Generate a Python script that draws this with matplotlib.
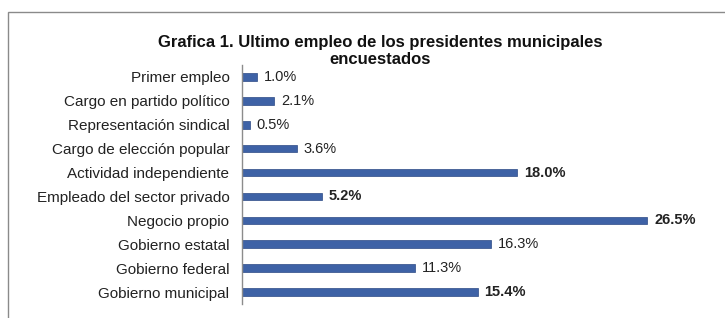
import matplotlib
matplotlib.use("Agg")
import matplotlib.pyplot as plt
from matplotlib.patches import Rectangle

categories = ["Primer empleo", "Cargo en partido político", "Representación sindical",
              "Cargo de elección popular", "Actividad independiente",
              "Empleado del sector privado", "Negocio propio", "Gobierno estatal",
              "Gobierno federal", "Gobierno municipal"]
values = [1.0, 2.1, 0.5, 3.6, 18.0, 5.2, 26.5, 16.3, 11.3, 15.4]
bold_labels = [False, False, False, False, True, True, True, False, False, True]
title_lines = ["Grafica 1. Ultimo empleo de los presidentes municipales", "encuestados"]

plt.rcParams['font.family'] = ['Liberation Sans', 'DejaVu Sans']

fig = plt.figure(figsize=(7.25, 3.18), dpi=100)
fig.patch.set_facecolor('white')
fig.patches.append(Rectangle((8/725, -0.1), 1.0, 1 - 12/318 + 0.1, transform=fig.transFigure,
                             fill=False, edgecolor='#8a8a8a', linewidth=1.0))

ax = fig.add_axes([242/725, 1 - 304/318, (701 - 242)/725, (304 - 65)/318])
ypos = list(range(len(categories)))
ax.barh(ypos, values, height=0.32, color='#3E62A6', edgecolor='#2c4a85', linewidth=0.5)
ax.set_ylim(len(categories) - 0.5, -0.5)
ax.set_xlim(0, 30)
ax.set_yticks(ypos)
ax.set_yticklabels(categories, fontsize=11, color='#222222')
ax.tick_params(axis='y', length=0, pad=9)
ax.set_xticks([])
for s in ['top', 'right', 'bottom']:
    ax.spines[s].set_visible(False)
ax.spines['left'].set_color('#8c8c8c')
ax.spines['left'].set_linewidth(1.0)

for y, v, b in zip(ypos, values, bold_labels):
    ax.text(v + 0.45, y, f"{v:.1f}%", va='center', ha='left', fontsize=10.5,
            fontweight='bold' if b else 'normal', color='#222222')

for i, line in enumerate(title_lines):
    fig.text(380/725, 1 - (42 + 18 * i)/318, line, ha='center', va='center', fontsize=12,
             fontweight='bold', color='#111111')

fig.savefig("out.png", dpi=100)
